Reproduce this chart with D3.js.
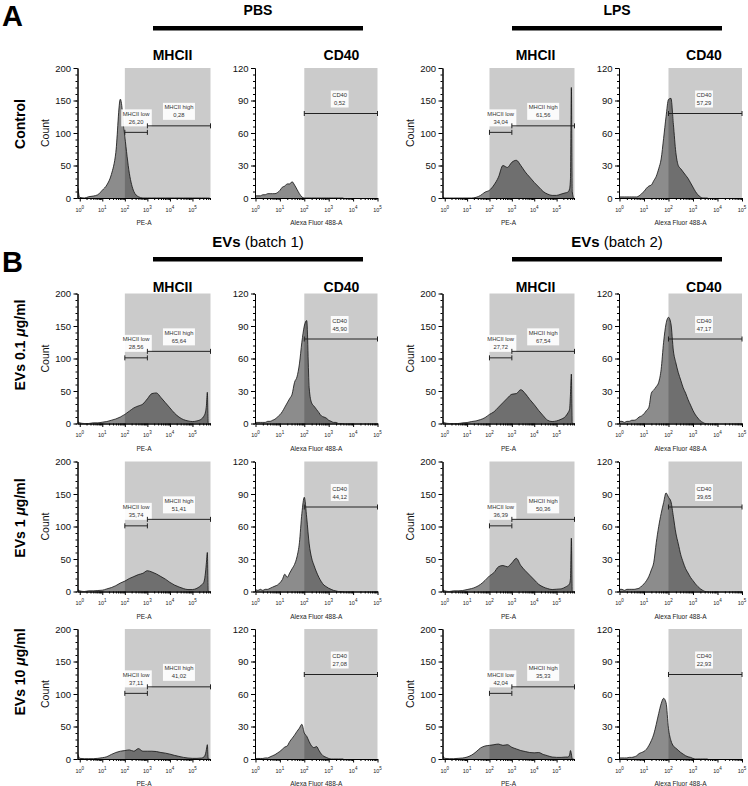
<!DOCTYPE html>
<html>
<head>
<meta charset="utf-8">
<script src="https://cdn.jsdelivr.net/npm/d3@7"></script>
<style>
  body { margin: 0; background: #fff; }
  svg { display: block; }
  text { font-family: "Liberation Sans", Arial, sans-serif; }
</style>
</head>
<body>
<svg id="chart" width="748" height="786"></svg>
<script>
// bin positions in decades (log10 of fluorescence)
const mhcBins = [-0.08, 0, 0.2, 0.4, 0.6, 0.8, 1, 1.2, 1.4, 1.6, 1.8, 2, 2.2, 2.4, 2.6, 2.8, 3, 3.2, 3.4, 3.6, 3.8, 4, 4.2, 4.4, 4.6, 4.8, 5, 5.2, 5.4, 5.5, 5.58, 5.62, 5.66, 5.7, 5.76];
const cd40Bins = [-0.02, 0, 0.1, 0.2, 0.3, 0.4, 0.5, 0.6, 0.7, 0.8, 0.9, 1, 1.1, 1.2, 1.3, 1.4, 1.5, 1.6, 1.7, 1.8, 1.9, 2, 2.1, 2.2, 2.3, 2.4, 2.5, 2.6, 2.7, 2.8, 2.9, 3, 3.1, 3.2, 3.3, 3.4, 3.5, 3.6];

// counts per panel
const ctrlPbsMhc  = [15,1,0,2,3,5,12,20,36,70,152,94,38,10,2,0,0,0,0,0,0,0,0,0,0,0,0,0,0,0,0,0,0,0,0];
const ctrlPbsCd40 = [3,2,2,2,3,3,4,4,4,4,5,7,10,11,13,13,15,12,8,4,1,0,0,0,0,0,0,0,0,0,0,0,0,0,0,0,0,0];
const ctrlLpsMhc  = [2,0,0,0,0,0,0,0,1,4,9,12,20,32,50,47,55,58,50,40,32,24,17,10,6,4,4,6,8,9,14,30,170,10,0];
const ctrlLpsCd40 = [6,1,1,1,1,1,1,1,1,2,4,6,9,11,12,16,20,27,36,55,75,91,92,68,42,30,27,24,21,18,14,10,6,3,1,0,0,0];

const ev01B1Mhc  = [3,1,0,0,1,1,2,3,5,7,10,14,19,24,27,30,38,46,47,40,32,24,16,10,6,4,3,4,7,11,18,28,48,0,0];
const ev01B1Cd40 = [3,1,1,1,1,1,2,2,3,4,6,8,11,15,19,23,27,38,43,55,75,90,95,33,19,16,13,10,7,6,5,3,2,1,1,0,0,0];
const ev01B2Mhc  = [3,1,0,0,0,1,1.5,3,4,6,9,14,18,25,32,39,45,46,52,46,37,29,20,12,5,3,4,6.5,11,16,22,45,76,0,0];
const ev01B2Cd40 = [3,2,2,1,2,2,3,3,4,6,7,9,12,15,28,31,34,38,50,75,92,98,92,67,56,47,40,33,28,22,17,12,8,5,2.5,1,0,0];

const ev1B1Mhc  = [3,1,0,1,1,1.5,2,4,6,9,13,16,20,23,26,28,32,30,27,23,19,14,10,7,4.5,3,3,5,10,14,30,45,60,0,0];
const ev1B1Cd40 = [3,2,1,2,1,2,2,3,4,5,6,8,11,16,13,17,21,25,32,45,72,87,68,44,31,24,18,13,9,6,4.5,3,2,1,0.5,0,0,0];
const ev1B2Mhc  = [3,1,0,1,1,1.5,3,4.5,7,11,17,24,29,38,40,38,44,51,40,32,25,18,11,7,4.5,3,3.5,4,7,9,12,20,82,0,0];
const ev1B2Cd40 = [4,2,2,1,2,2,2,2,2.5,3,5,7,10,14,20,27,45,60,72,82,91,87,83,69,54,44,34,27,21,17,13,10,7,4.5,2.5,1,0,0];

const ev10B1Mhc  = [7,1,0.5,0.5,0.5,1,2,3.5,7,10,12,13,14,12,16,12,12,12,11.5,10,9,7.5,5.6,4,2.5,1.5,1,1,1.5,3,8,15,22,0,0];
const ev10B1Cd40 = [3,0.5,0.5,0.5,0.5,1,1,2,3,4,5.5,7,9,11,12,16,19,22,25.5,28.5,32,24,21,16,12,10.5,11.5,8,4.5,2.5,1.5,0.5,0,0,0,0,0,0];
const ev10B2Mhc  = [5,1,0.5,0.5,1,1.5,3,6,11,17,20,21,22,23,21,22,18,15.5,13,11.5,10,9.5,10,7,5,3,2.5,2.5,3,3,6,13,8,0,0];
const ev10B2Cd40 = [3,1,1,1,1,1.5,1.5,2,3,5,6,7,9,12.5,17,23,32,42,51,56,52,28,17,12,10,8,6,4.5,3,2,1.5,0.5,0,0,0,0,0,0];

// gate percentages, row by row (left group, right group)
const mhcLowPct  = [["26,20", "34,04"], ["28,56", "27,72"], ["35,74", "36,39"], ["37,11", "42,04"]];
const mhcHighPct = [["0,28", "61,56"], ["65,64", "67,54"], ["51,41", "50,36"], ["41,02", "35,33"]];
const cd40Pct    = [["0,52", "57,29"], ["45,90", "47,17"], ["44,12", "39,65"], ["27,08", "22,93"]];

const rowNames = [["Control"], ["EVs 0.1 ", "μ", "g/ml"], ["EVs 1 ", "μ", "g/ml"], ["EVs 10 ", "μ", "g/ml"]];
const markers = ["MHCII", "CD40", "MHCII", "CD40"];
const axisTitles = ["PE-A", "Alexa Fluor 488-A"];
const mhcTicks = [0, 50, 100, 150, 200];
const cd40Ticks = [0, 30, 60, 90, 120];
const decades = [0, 1, 2, 3, 4, 5];

const panelCounts = [
  [ctrlPbsMhc, ctrlPbsCd40, ctrlLpsMhc, ctrlLpsCd40],
  [ev01B1Mhc, ev01B1Cd40, ev01B2Mhc, ev01B2Cd40],
  [ev1B1Mhc, ev1B1Cd40, ev1B2Mhc, ev1B2Cd40],
  [ev10B1Mhc, ev10B1Cd40, ev10B2Mhc, ev10B2Cd40]
];

// layout
const colAxisX = [77.5, 255, 442.5, 619];
const colEndX = [210.5, 377.5, 574.5, 742];
const rowTop = [68, 293.5, 461.5, 629];
const panelH = 130;
const rowLabelY = [124, 345, 518, 672];

const svg = d3.select("#chart");
svg.append("rect").attr("width", 748).attr("height", 786).attr("fill", "#fff");

// ---- headers ----
function header(letter, letterY, titles, titleY, barY, markerY) {
  svg.append("text").attr("x", 2).attr("y", letterY)
    .attr("font-size", 29).attr("font-weight", "bold").text(letter);
  [258, 617].forEach((cx, i) => {
    const t = svg.append("text").attr("x", cx).attr("y", titleY)
      .attr("text-anchor", "middle");
    if (titles[i].startsWith("EVs")) {
      t.attr("font-size", 15);
      t.append("tspan").attr("font-weight", "bold").text("EVs");
      t.append("tspan").text(titles[i].slice(3));
    } else {
      t.attr("font-size", 14).attr("font-weight", "bold").text(titles[i]);
    }
    svg.append("rect").attr("x", cx - 105).attr("y", barY)
      .attr("width", 210).attr("height", 4.5).attr("fill", "#000");
  });
  [172.5, 341.5, 535.5, 704].forEach((cx, i) => {
    svg.append("text").attr("x", cx).attr("y", markerY)
      .attr("text-anchor", "middle").attr("font-size", 14)
      .attr("font-weight", "bold").text(markers[i]);
  });
}
header("A", 26, ["PBS", "LPS"], 14.5, 26, 59.5);
header("B", 272, ["EVs (batch 1)", "EVs (batch 2)"], 247, 257, 291.5);

// ---- row labels ----
rowNames.forEach((parts, r) => {
  const t = svg.append("text")
    .attr("transform", `translate(24.5,${rowLabelY[r]}) rotate(-90)`)
    .attr("text-anchor", "middle").attr("font-size", 14).attr("font-weight", "bold");
  parts.forEach(p => {
    const s = t.append("tspan").text(p);
    if (p === "μ") s.attr("font-style", "italic");
  });
});

// ---- gate with label ----
function gate(g, xa, xb, yy, lines, cx) {
  g.append("line").attr("x1", xa).attr("x2", xb).attr("y1", yy).attr("y2", yy)
    .attr("stroke", "#222").attr("stroke-width", 1);
  [xa, xb].forEach(xx => {
    g.append("line").attr("x1", xx).attr("x2", xx).attr("y1", yy - 2.5).attr("y2", yy + 2.5)
      .attr("stroke", "#222").attr("stroke-width", 1);
  });
  const lab = g.append("g");
  const t = lab.append("text").attr("text-anchor", "middle")
    .attr("font-size", 5.8).attr("fill", "#333");
  t.append("tspan").attr("x", cx).attr("y", yy - 16.5).text(lines[0]);
  t.append("tspan").attr("x", cx).attr("y", yy - 8.5).text(lines[1]);
  const bb = t.node().getBBox();
  lab.insert("rect", "text").attr("x", bb.x - 1.5).attr("y", bb.y - 1.5)
    .attr("width", bb.width + 3).attr("height", bb.height + 3)
    .attr("fill", "#fff").attr("fill-opacity", 0.92);
}

// ---- one histogram panel ----
function drawPanel(r, c) {
  const isMhc = c % 2 === 0;
  const counts = panelCounts[r][c];
  const bins = isMhc ? mhcBins : cd40Bins;
  const x0 = colAxisX[c], x1 = colEndX[c];
  const top = rowTop[r], bot = top + panelH;
  const x = d3.scaleLinear().domain(isMhc ? [-0.1, 5.8] : [-0.02, 5]).range([x0, x1]);
  const y = d3.scaleLinear().domain([0, isMhc ? 200 : 120]).range([bot, top]);
  const g = svg.append("g");

  // gated region
  g.append("rect").attr("x", x(2)).attr("y", top)
    .attr("width", x1 - x(2)).attr("height", bot - top).attr("fill", "#cbcbcb");

  const clipId = `clip-${r}-${c}`;
  g.append("clipPath").attr("id", clipId).append("rect")
    .attr("x", x0).attr("y", top - 4).attr("width", x1 - x0).attr("height", bot - top + 4);

  const pts = counts.map((v, i) => [bins[i], v]);
  const area = d3.area().x(d => x(d[0])).y0(bot).y1(d => y(d[1])).curve(d3.curveMonotoneX);
  const line = d3.line().x(d => x(d[0])).y(d => y(d[1])).curve(d3.curveMonotoneX);
  g.append("path").datum(pts).attr("clip-path", `url(#${clipId})`)
    .attr("d", area).attr("fill", "#000").attr("fill-opacity", 0.45);
  g.append("path").datum(pts).attr("clip-path", `url(#${clipId})`)
    .attr("d", line).attr("fill", "none").attr("stroke", "#111").attr("stroke-width", 0.8);

  // gates
  const grp = c < 2 ? 0 : 1;
  if (isMhc) {
    gate(g, x(2), x(3), y(101), ["MHCII low", mhcLowPct[r][grp]], x(2.5));
    gate(g, x(3), x1, y(111), ["MHCII high", mhcHighPct[r][grp]], x(4.4));
  } else {
    gate(g, x(2), x1, y(78), ["CD40", cd40Pct[r][grp]], x(3.45));
  }

  // y axis
  const yMinor = isMhc ? d3.range(0, 201, 10) : d3.range(0, 121, 6);
  g.append("g").attr("transform", `translate(${x0},0)`)
    .call(d3.axisLeft(y).tickValues(yMinor).tickSize(2).tickSizeOuter(0).tickFormat(""));
  const ya = g.append("g").attr("transform", `translate(${x0},0)`)
    .call(d3.axisLeft(y).tickValues(isMhc ? mhcTicks : cd40Ticks)
      .tickSize(4).tickSizeOuter(0).tickPadding(2.5));
  ya.selectAll("text").attr("font-size", 9.5).attr("fill", "#111")
    .attr("font-family", '"Liberation Sans", Arial, sans-serif');

  // x axis (log decades)
  const xMinor = [];
  decades.forEach(k => d3.range(2, 10).forEach(m => {
    const v = k + Math.log10(m);
    if (v < x.domain()[1]) xMinor.push(v);
  }));
  g.append("g").attr("transform", `translate(0,${bot})`)
    .call(d3.axisBottom(x).tickValues(xMinor).tickSize(2).tickSizeOuter(0).tickFormat(""));
  g.append("g").attr("transform", `translate(0,${bot})`)
    .call(d3.axisBottom(x).tickValues(decades).tickSize(3.5).tickSizeOuter(0).tickFormat(""));
  decades.forEach(k => {
    const t = g.append("text").attr("x", x(k)).attr("y", bot + 13.5)
      .attr("text-anchor", "middle").attr("font-size", 5.5).attr("fill", "#222").text("10");
    t.append("tspan").attr("dy", -2.8).attr("font-size", 4.5).text(k);
  });
  g.append("text").attr("x", (x0 + x1) / 2).attr("y", bot + 27)
    .attr("text-anchor", "middle").attr("font-size", 6.5).attr("fill", "#222")
    .text(axisTitles[isMhc ? 0 : 1]);

  if (isMhc) {
    g.append("text")
      .attr("transform", `translate(${x0 - 29},${(top + bot) / 2}) rotate(-90)`)
      .attr("text-anchor", "middle").attr("font-size", 10.5).attr("fill", "#111")
      .text("Count");
  }
}

for (let r = 0; r < 4; r++) {
  for (let c = 0; c < 4; c++) drawPanel(r, c);
}
</script>
</body>
</html>
